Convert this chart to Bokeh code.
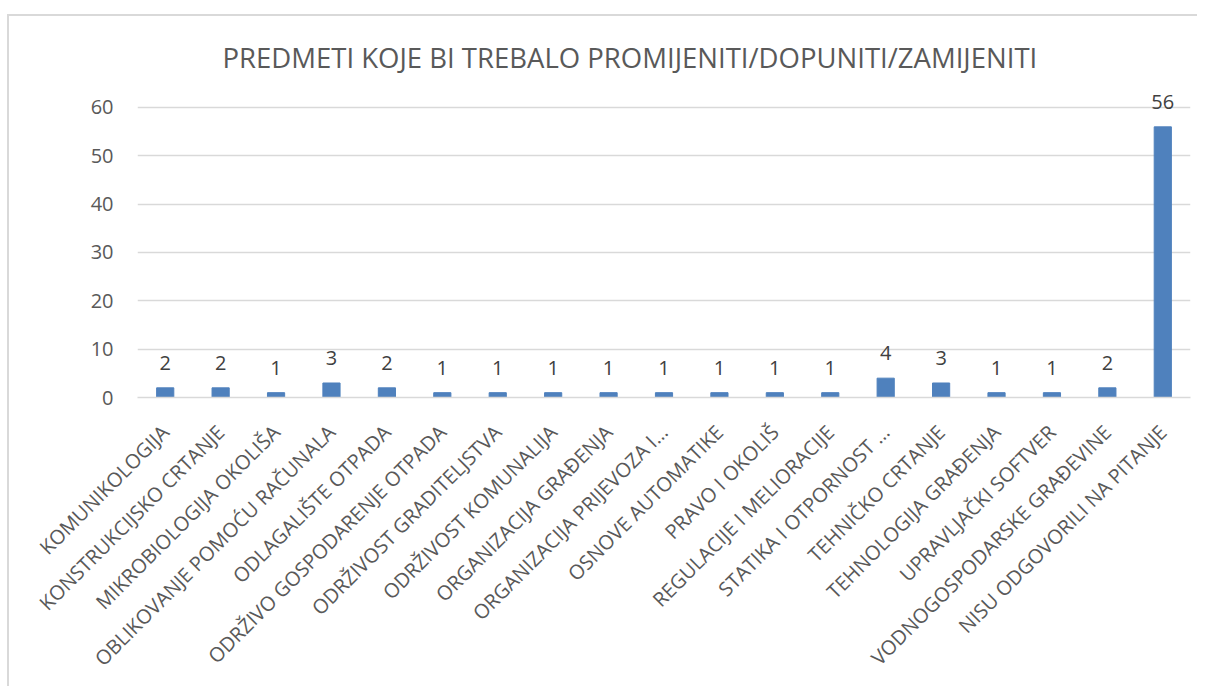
from bokeh.plotting import figure
from bokeh.models import Range1d, FixedTicker, ColumnDataSource
from bokeh.core.properties import value
from bokeh.embed import file_html
from bokeh.resources import INLINE

categories = [
    "KOMUNIKOLOGIJA",
    "KONSTRUKCIJSKO CRTANJE",
    "MIKROBIOLOGIJA OKOLIŠA",
    "OBLIKOVANJE POMOĆU RAČUNALA",
    "ODLAGALIŠTE OTPADA",
    "ODRŽIVO GOSPODARENJE OTPADA",
    "ODRŽIVOST GRADITELJSTVA",
    "ODRŽIVOST KOMUNALIJA",
    "ORGANIZACIJA GRAĐENJA",
    "ORGANIZACIJA PRIJEVOZA I…",
    "OSNOVE AUTOMATIKE",
    "PRAVO I OKOLIŠ",
    "REGULACIJE I MELIORACIJE",
    "STATIKA I OTPORNOST …",
    "TEHNIČKO CRTANJE",
    "TEHNOLOGIJA GRAĐENJA",
    "UPRAVLJAČKI SOFTVER",
    "VODNOGOSPODARSKE GRAĐEVINE",
    "NISU ODGOVORILI NA PITANJE",
]
counts = [2, 2, 1, 3, 2, 1, 1, 1, 1, 1, 1, 1, 1, 4, 3, 1, 1, 2, 56]
y_ticks = [0, 10, 20, 30, 40, 50, 60]
title_text = "PREDMETI KOJE BI TREBALO PROMIJENITI/DOPUNITI/ZAMIJENITI"

FONT = "Open Sans"
TXT = "#595959"

src = ColumnDataSource(dict(cat=categories, val=counts, lab=[str(v) for v in counts]))

p = figure(
    x_range=categories,
    y_range=Range1d(0, 63.93),
    width=1190,
    height=672,
    output_backend="svg",
    toolbar_location=None,
    min_border_left=128,
    min_border_right=9,
    min_border_top=72,
    min_border_bottom=291,
    title=title_text,
)
p.styles = {"border-left": "2px solid #d9d9d9", "border-top": "2px solid #d9d9d9",
            "margin-left": "7px", "margin-top": "14px"}

p.title.align = "left"
p.title.offset = 85
p.title.standoff = 25
p.title.text_font = FONT
p.title.text_font_size = "27.5px"
p.title.text_font_style = "normal"
p.title.text_color = TXT

p.vbar(x="cat", top="val", width=0.31, source=src, color="#4F81BD")
p.text(x="cat", y="val", text="lab", source=src, text_align="center",
       text_baseline="alphabetic", y_offset=-25, text_font=value(FONT),
       text_font_size="20px", text_color="#404040")

p.outline_line_color = None
p.xgrid.grid_line_color = None
p.ygrid.grid_line_color = "#d9d9d9"
p.ygrid.grid_line_width = 1.5
p.ygrid.ticker = FixedTicker(ticks=y_ticks)

p.yaxis.ticker = FixedTicker(ticks=y_ticks)
p.yaxis.axis_line_color = None
p.yaxis.major_tick_line_color = None
p.yaxis.minor_tick_line_color = None
p.yaxis.major_label_text_font = FONT
p.yaxis.major_label_text_font_size = "20px"
p.yaxis.major_label_text_color = TXT
p.yaxis.major_label_standoff = 18

p.xaxis.axis_line_color = "#d9d9d9"
p.xaxis.axis_line_width = 1.5
p.xaxis.major_tick_line_color = None
p.xaxis.minor_tick_line_color = None
p.xaxis.major_label_orientation = 0.7854
p.xaxis.major_label_text_font = FONT
p.xaxis.major_label_text_font_size = "20px"
p.xaxis.major_label_text_color = TXT
p.xaxis.major_label_standoff = 25

p.background_fill_color = "white"
p.border_fill_color = "white"

open("out.html", "w").write(file_html(p, INLINE))
